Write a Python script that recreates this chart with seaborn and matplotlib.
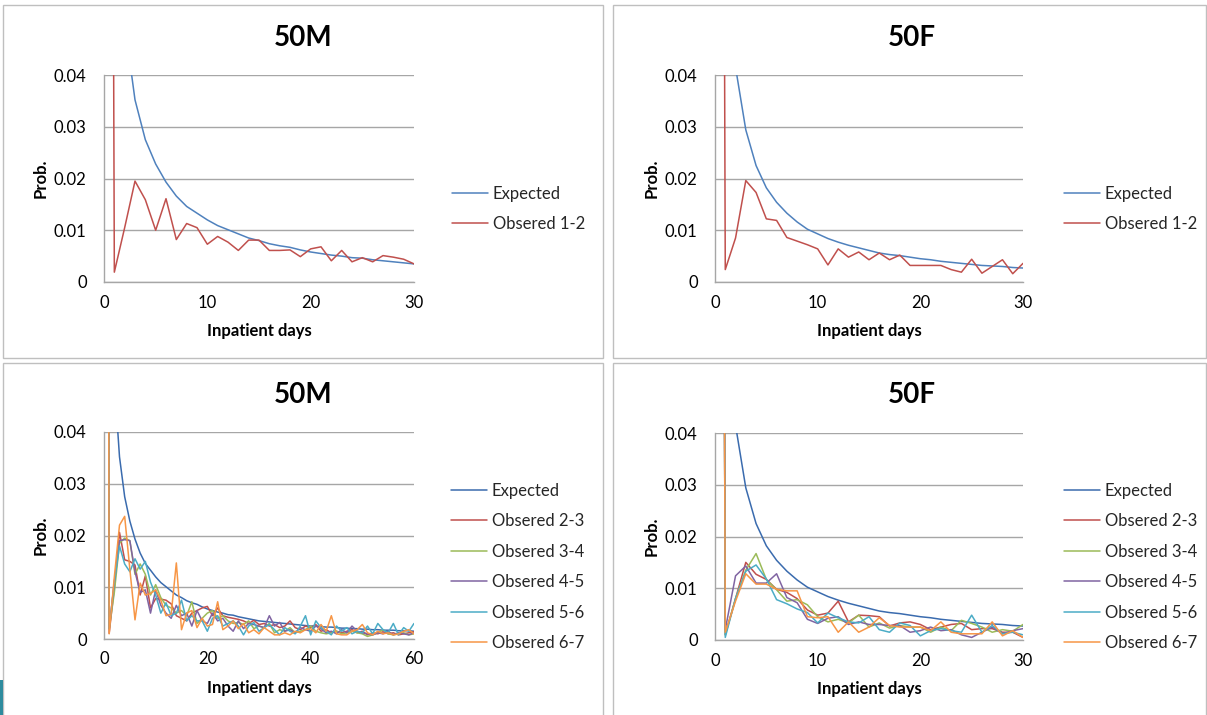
import numpy as np
import pandas as pd
import matplotlib
matplotlib.use("Agg")
import matplotlib.pyplot as plt
import seaborn as sns
from matplotlib.patches import Rectangle

# ---------------- data ----------------
panel_titles = ["50M", "50F", "50M", "50F"]
x_label = "Inpatient days"
y_label = "Prob."
y_ticks = [0, 0.01, 0.02, 0.03, 0.04]
y_tick_labels = ["0", "0.01", "0.02", "0.03", "0.04"]
x_ticks_30 = [0, 10, 20, 30]
x_ticks_60 = [0, 20, 40, 60]

days_30 = list(range(0, 31))
days_60 = list(range(0, 61))

# top-left 50M (days 0..30)
exp_50m = [0.30, 0.10, 0.050, 0.0352, 0.0275, 0.0228, 0.0193, 0.0166, 0.0146, 0.0133,
           0.0120, 0.0109, 0.0101, 0.0093, 0.0085, 0.0080, 0.0074, 0.0070, 0.0067, 0.0062,
           0.0058, 0.0055, 0.0052, 0.0050, 0.0047, 0.0046, 0.0043, 0.0041, 0.0039, 0.0037,
           0.0035]
obs12_50m = [0.60, 0.0019, 0.0105, 0.0195, 0.0159, 0.0100, 0.0161, 0.0082, 0.0113, 0.0105,
             0.0073, 0.0088, 0.0077, 0.0061, 0.0081, 0.0081, 0.0061, 0.0061, 0.0062, 0.0049,
             0.0064, 0.0068, 0.0041, 0.0061, 0.0039, 0.0047, 0.0039, 0.0051, 0.0048, 0.0044,
             0.0035]

# top-right 50F (days 0..30)
exp_50f = [0.30, 0.10, 0.0415, 0.0294, 0.0225, 0.0182, 0.0154, 0.0133, 0.0116, 0.0102,
           0.0093, 0.0084, 0.0077, 0.0071, 0.0066, 0.0061, 0.0056, 0.0053, 0.0051, 0.0048,
           0.0045, 0.0043, 0.0040, 0.0038, 0.0036, 0.0034, 0.0032, 0.0031, 0.0030, 0.0028,
           0.0027]
obs12_50f = [0.60, 0.0024, 0.0085, 0.0196, 0.0173, 0.0122, 0.0119, 0.0086, 0.0079, 0.0072,
             0.0064, 0.0033, 0.0064, 0.0048, 0.0058, 0.0043, 0.0056, 0.0043, 0.0052, 0.0032,
             0.0032, 0.0032, 0.0032, 0.0024, 0.0019, 0.0044, 0.0017, 0.0030, 0.0043, 0.0016,
             0.0036]

# bottom-left 50M (days 0..60)
exp_50m_60 = exp_50m + [0.0034, 0.0033, 0.0032, 0.0031, 0.0030, 0.0029, 0.0028, 0.0027, 0.0026, 0.0025,
                        0.0025, 0.0024, 0.0023, 0.0023, 0.0022, 0.0021, 0.0021, 0.0020, 0.0020, 0.0019,
                        0.0019, 0.0018, 0.0018, 0.0017, 0.0017, 0.0017, 0.0016, 0.0016, 0.0016, 0.0015]
obs23_50m = [0.60, 0.0011, 0.0100, 0.0206, 0.0153, 0.0150, 0.0143, 0.0085, 0.0122, 0.0060,
             0.0078, 0.0077, 0.0075, 0.0068, 0.0045, 0.0040, 0.0035, 0.0050, 0.0055, 0.0060,
             0.0063, 0.0045, 0.0060, 0.0045, 0.0042, 0.0040, 0.0038, 0.0035, 0.0030, 0.0036,
             0.0028, 0.0030, 0.0025, 0.0028, 0.0022, 0.0025, 0.0035, 0.0022, 0.0018, 0.0025,
             0.0022, 0.0028, 0.0015, 0.0018, 0.0012, 0.0015, 0.0012, 0.0015, 0.0018, 0.0012,
             0.0015, 0.0008, 0.0012, 0.0010, 0.0014, 0.0010, 0.0012, 0.0008, 0.0010, 0.0012,
             0.0014]
obs34_50m = [0.60, 0.0020, 0.0090, 0.0185, 0.0195, 0.0190, 0.0125, 0.0145, 0.0125, 0.0085,
             0.0105, 0.0080, 0.0065, 0.0060, 0.0050, 0.0055, 0.0045, 0.0072, 0.0030, 0.0040,
             0.0050, 0.0055, 0.0040, 0.0045, 0.0035, 0.0030, 0.0032, 0.0028, 0.0035, 0.0020,
             0.0025, 0.0022, 0.0030, 0.0012, 0.0018, 0.0015, 0.0022, 0.0012, 0.0015, 0.0018,
             0.0025, 0.0015, 0.0012, 0.0010, 0.0012, 0.0015, 0.0010, 0.0012, 0.0015, 0.0012,
             0.0010, 0.0005, 0.0008, 0.0012, 0.0018, 0.0010, 0.0008, 0.0010, 0.0012, 0.0008,
             0.0010]
obs45_50m = [0.60, 0.0020, 0.0110, 0.0190, 0.0192, 0.0190, 0.0130, 0.0090, 0.0095, 0.0050,
             0.0095, 0.0065, 0.0050, 0.0040, 0.0065, 0.0045, 0.0050, 0.0025, 0.0055, 0.0035,
             0.0030, 0.0050, 0.0035, 0.0040, 0.0025, 0.0015, 0.0035, 0.0020, 0.0030, 0.0028,
             0.0025, 0.0022, 0.0045, 0.0025, 0.0032, 0.0015, 0.0018, 0.0012, 0.0022, 0.0018,
             0.0015, 0.0025, 0.0020, 0.0012, 0.0015, 0.0010, 0.0018, 0.0012, 0.0025, 0.0015,
             0.0012, 0.0010, 0.0008, 0.0012, 0.0010, 0.0015, 0.0008, 0.0012, 0.0010, 0.0008,
             0.0012]
obs56_50m = [0.60, 0.0020, 0.0110, 0.0180, 0.0145, 0.0130, 0.0155, 0.0135, 0.0150, 0.0110,
             0.0085, 0.0050, 0.0070, 0.0045, 0.0050, 0.0075, 0.0035, 0.0045, 0.0035, 0.0035,
             0.0015, 0.0040, 0.0045, 0.0025, 0.0030, 0.0035, 0.0025, 0.0008, 0.0025, 0.0032,
             0.0015, 0.0022, 0.0028, 0.0018, 0.0008, 0.0022, 0.0015, 0.0010, 0.0025, 0.0045,
             0.0008, 0.0035, 0.0022, 0.0015, 0.0008, 0.0025, 0.0015, 0.0022, 0.0010, 0.0015,
             0.0012, 0.0025, 0.0010, 0.0030, 0.0018, 0.0012, 0.0030, 0.0008, 0.0022, 0.0015,
             0.0030]
obs67_50m = [0.60, 0.0010, 0.0120, 0.0220, 0.0237, 0.0135, 0.0037, 0.0108, 0.0085, 0.0088,
             0.0095, 0.0075, 0.0045, 0.0048, 0.0147, 0.0018, 0.0050, 0.0055, 0.0022, 0.0040,
             0.0025, 0.0028, 0.0072, 0.0018, 0.0025, 0.0035, 0.0020, 0.0030, 0.0012, 0.0018,
             0.0010, 0.0022, 0.0015, 0.0008, 0.0008, 0.0012, 0.0008, 0.0015, 0.0012, 0.0018,
             0.0020, 0.0012, 0.0028, 0.0015, 0.0045, 0.0010, 0.0008, 0.0008, 0.0015, 0.0018,
             0.0028, 0.0012, 0.0008, 0.0015, 0.0010, 0.0012, 0.0008, 0.0010, 0.0015, 0.0018,
             0.0010]

# bottom-right 50F (days 0..30)
obs23_50f = [0.60, 0.0010, 0.0080, 0.0150, 0.0127, 0.0117, 0.0098, 0.0092, 0.0080, 0.0058,
             0.0048, 0.0052, 0.0075, 0.0035, 0.0048, 0.0047, 0.0045, 0.0027, 0.0033, 0.0035,
             0.0030, 0.0020, 0.0025, 0.0030, 0.0032, 0.0020, 0.0022, 0.0022, 0.0015, 0.0015,
             0.0005]
obs34_50f = [0.60, 0.0010, 0.0080, 0.0135, 0.0167, 0.0117, 0.0097, 0.0075, 0.0078, 0.0068,
             0.0045, 0.0035, 0.0040, 0.0033, 0.0048, 0.0025, 0.0033, 0.0023, 0.0028, 0.0025,
             0.0025, 0.0015, 0.0025, 0.0018, 0.0038, 0.0032, 0.0025, 0.0015, 0.0020, 0.0017,
             0.0030]
obs45_50f = [0.60, 0.0020, 0.0124, 0.0143, 0.0110, 0.0110, 0.0128, 0.0082, 0.0072, 0.0040,
             0.0032, 0.0042, 0.0045, 0.0030, 0.0035, 0.0030, 0.0030, 0.0028, 0.0028, 0.0015,
             0.0018, 0.0025, 0.0018, 0.0020, 0.0010, 0.0005, 0.0015, 0.0025, 0.0012, 0.0018,
             0.0022]
obs56_50f = [0.60, 0.0005, 0.0080, 0.0133, 0.0145, 0.0118, 0.0078, 0.0070, 0.0060, 0.0053,
             0.0033, 0.0052, 0.0043, 0.0035, 0.0033, 0.0045, 0.0020, 0.0015, 0.0033, 0.0028,
             0.0008, 0.0018, 0.0022, 0.0018, 0.0015, 0.0048, 0.0015, 0.0028, 0.0012, 0.0015,
             0.0010]
obs67_50f = [0.60, 0.0015, 0.0075, 0.0128, 0.0108, 0.0108, 0.0098, 0.0095, 0.0095, 0.0045,
             0.0043, 0.0045, 0.0015, 0.0035, 0.0015, 0.0025, 0.0043, 0.0028, 0.0025, 0.0025,
             0.0025, 0.0018, 0.0035, 0.0015, 0.0012, 0.0012, 0.0012, 0.0035, 0.0008, 0.0018,
             0.0005]

top_names = ["Expected", "Obsered 1-2"]
bottom_names = ["Expected", "Obsered 2-3", "Obsered 3-4", "Obsered 4-5", "Obsered 5-6", "Obsered 6-7"]
top_colors = ["#4F81BD", "#C0504D"]
bottom_colors = ["#3A6BAE", "#C0504D", "#9BBB59", "#8064A2", "#4BACC6", "#F79646"]

# ---------------- style ----------------
sns.set_theme(style="white")
plt.rcParams["font.family"] = ["Lato", "DejaVu Sans"]
TXT = "#000000"

W, H = 1207, 715
fig = plt.figure(figsize=(W / 100, H / 100), dpi=100)
fig.patch.set_facecolor("white")

# panel frames (Excel chart borders)
for (x0, y0, x1, y1) in [(3, 5, 603, 358), (613, 5, 1206, 358), (3, 363, 603, 716), (613, 363, 1206, 716)]:
    fig.add_artist(Rectangle((x0 / W, 1 - y1 / H), (x1 - x0) / W, (y1 - y0) / H,
                             transform=fig.transFigure, fill=False, edgecolor="#BFBFBF", lw=1.0))
fig.add_artist(Rectangle((0, 1 - 715 / H), 3 / W, 35 / H, transform=fig.transFigure,
                         facecolor="#2E8B9E", edgecolor="none"))


def make_axes(left, right, top, bottom):
    return fig.add_axes([left / W, 1 - bottom / H, (right - left) / W, (bottom - top) / H])


def draw_panel(ax, days, series, names, colors, title, title_xy, xmax, xticks, legend_x, legend_cy):
    frames = []
    for name, vals in zip(names, series):
        frames.append(pd.DataFrame({"day": days, "prob": vals, "series": name}))
    df = pd.concat(frames, ignore_index=True)
    sns.lineplot(data=df, x="day", y="prob", hue="series", hue_order=names,
                 palette=dict(zip(names, colors)), ax=ax, lw=1.1, sort=False,
                 estimator=None, legend=True)
    ax.set_xlim(0, xmax)
    ax.set_ylim(0, 0.04)
    ax.set_yticks(y_ticks)
    ax.set_yticklabels(y_tick_labels)
    ax.set_xticks(xticks)
    ax.set_xticklabels([str(t) for t in xticks])
    ax.grid(axis="y", color="#A6A6A6", lw=1.0)
    ax.grid(axis="x", visible=False)
    ax.set_axisbelow(True)
    for s in ["top", "right"]:
        ax.spines[s].set_visible(False)
    for s in ["left", "bottom"]:
        ax.spines[s].set_color("#A6A6A6")
        ax.spines[s].set_linewidth(1.0)
    ax.tick_params(axis="both", length=0, labelsize=12, colors=TXT)
    ax.tick_params(axis="y", pad=12.5)
    ax.tick_params(axis="x", pad=9)
    ax.set_xlabel(x_label, fontsize=12, fontweight="bold", color=TXT, labelpad=9)
    ax.set_ylabel(y_label, fontsize=12, fontweight="bold", color=TXT, labelpad=4)
    fig.text(title_xy[0] / W, 1 - title_xy[1] / H, title, fontsize=20, fontweight="bold",
             color=TXT, ha="center", va="center")
    handles, labels = ax.get_legend_handles_labels()
    ax.legend(handles, labels, loc="center left",
              bbox_to_anchor=(legend_x / W, 1 - legend_cy / H), bbox_transform=fig.transFigure,
              frameon=False, fontsize=12, handlelength=2.15, handletextpad=0.3,
              labelspacing=0.87, borderpad=0, borderaxespad=0)
    for line in ax.get_legend().get_lines():
        line.set_linewidth(1.1)


ax1 = make_axes(104, 414, 75, 282)
draw_panel(ax1, days_30, [exp_50m, obs12_50m], top_names, top_colors, panel_titles[0], (303, 38),
           30, x_ticks_30, 452, 209)

ax2 = make_axes(715, 1023, 75, 282)
draw_panel(ax2, days_30, [exp_50f, obs12_50f], top_names, top_colors, panel_titles[1], (912, 38),
           30, x_ticks_30, 1064, 209)

ax3 = make_axes(104, 414, 432, 639)
draw_panel(ax3, days_60, [exp_50m_60, obs23_50m, obs34_50m, obs45_50m, obs56_50m, obs67_50m],
           bottom_names, bottom_colors, panel_titles[2], (303, 395), 60, x_ticks_60, 451, 567)

ax4 = make_axes(715, 1023, 433, 640)
draw_panel(ax4, days_30, [exp_50f, obs23_50f, obs34_50f, obs45_50f, obs56_50f, obs67_50f],
           bottom_names, bottom_colors, panel_titles[3], (912, 395), 30, x_ticks_30, 1064, 567)

fig.savefig("out.png", dpi=100, facecolor="white")
